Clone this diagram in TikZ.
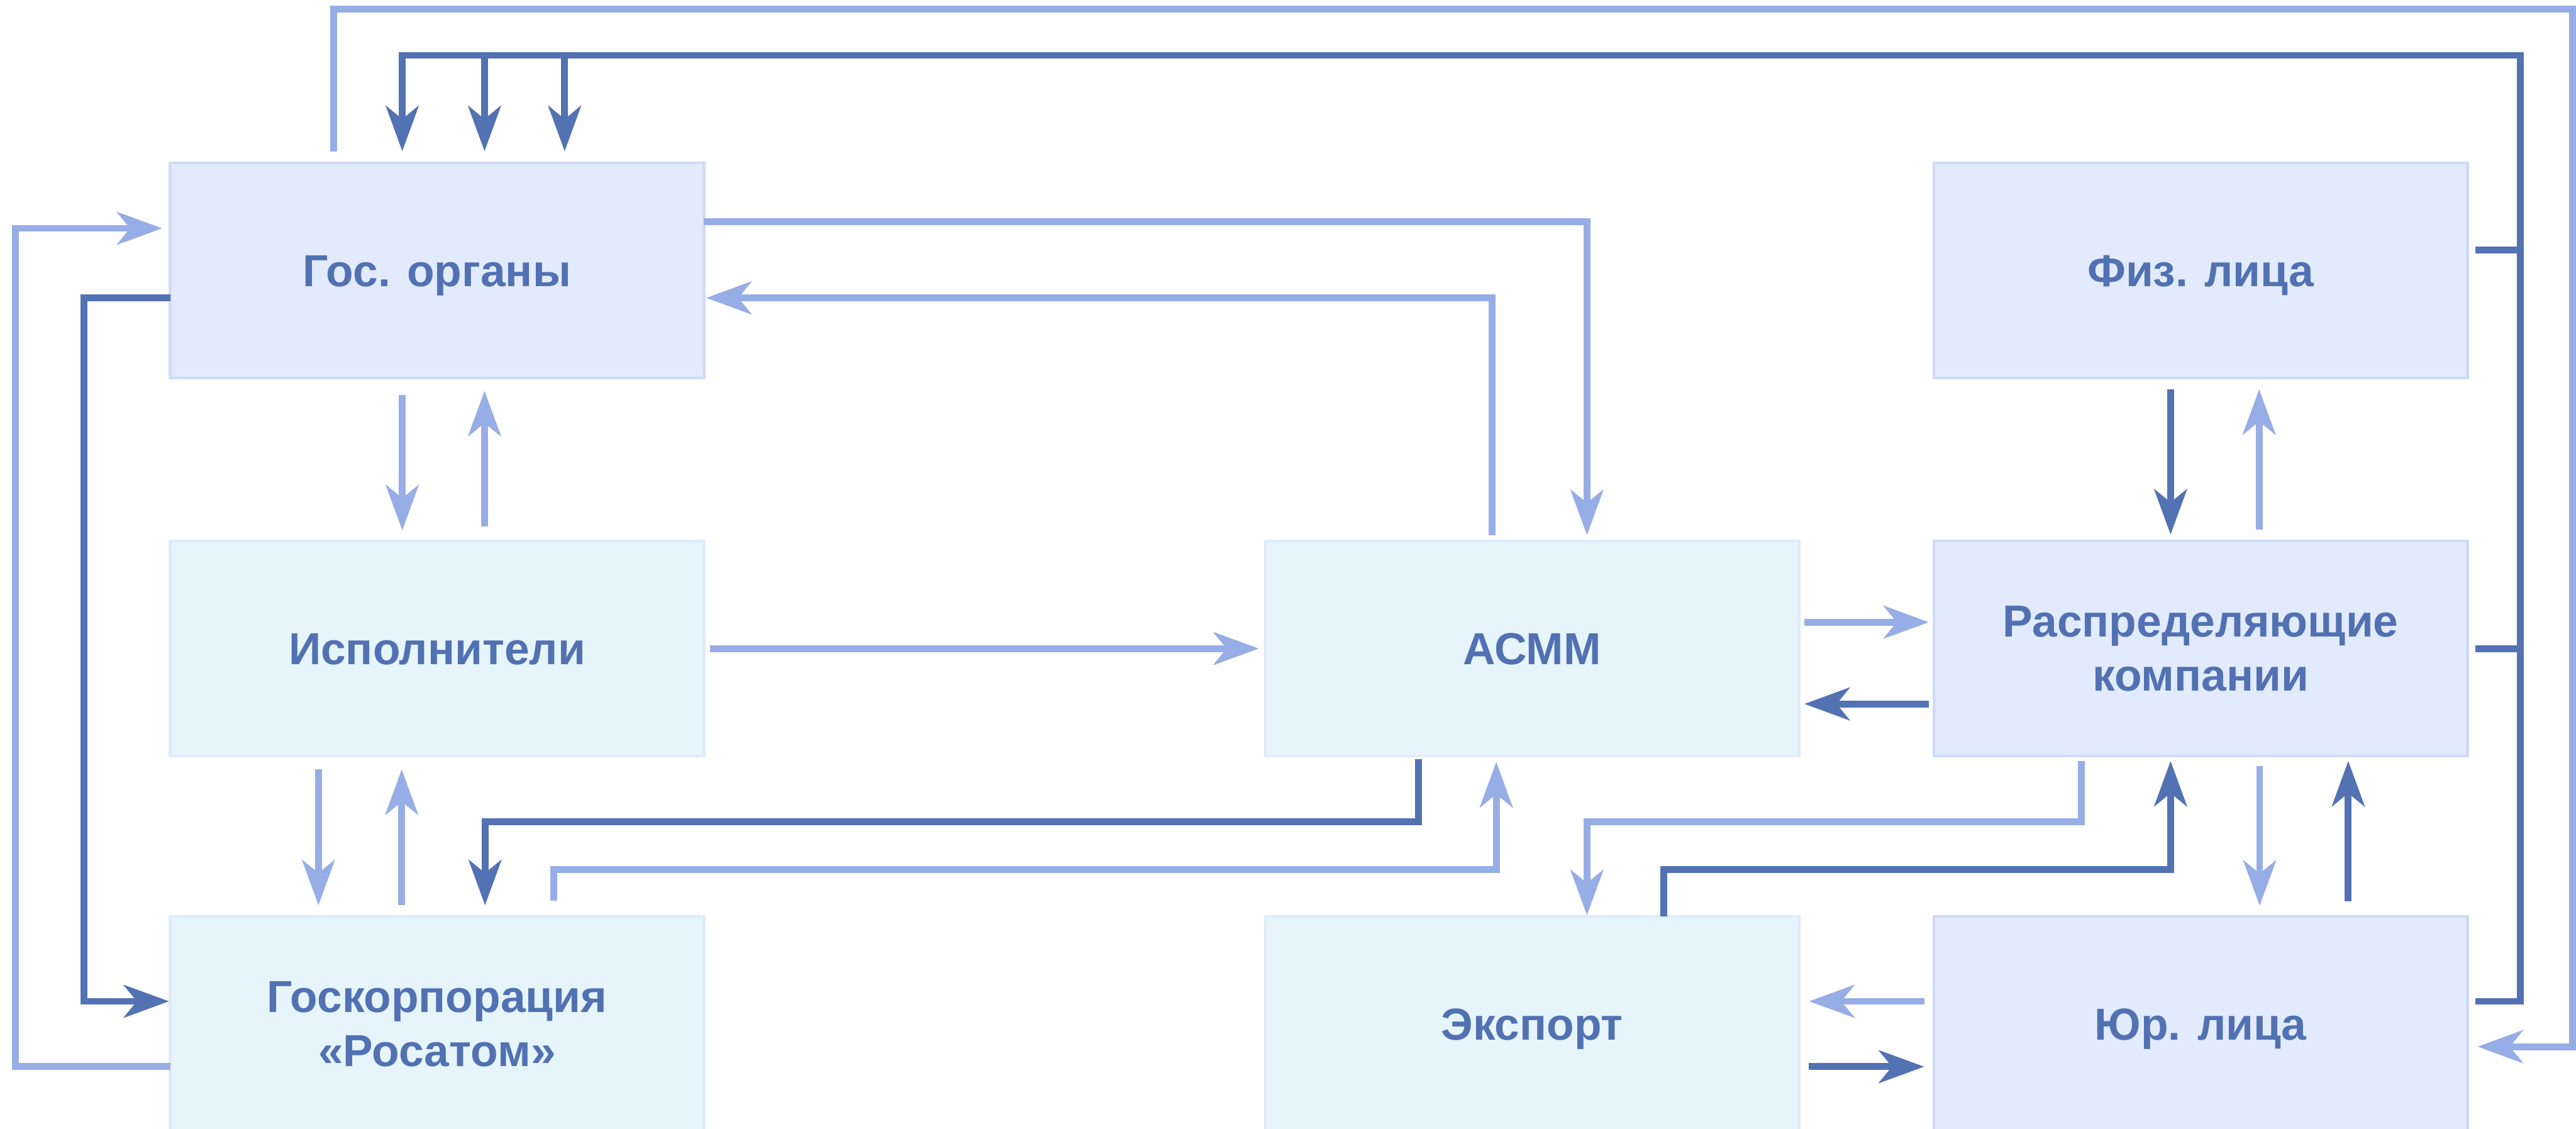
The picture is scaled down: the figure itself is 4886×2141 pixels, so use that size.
\documentclass[tikz,border=0pt]{standalone}
\usepackage{fontspec}
\setmainfont{Liberation Sans}
\usetikzlibrary{arrows.meta,calc}
\definecolor{darkln}{HTML}{5272B4}
\definecolor{lightln}{HTML}{97ADE6}
\definecolor{txtblue}{HTML}{5271B3}
\definecolor{fillA}{HTML}{E1EBFD}
\definecolor{drawA}{HTML}{CFDBF6}
\definecolor{fillB}{HTML}{E6F5FC}
\definecolor{drawB}{HTML}{DFEAFC}
\begin{document}
\begin{tikzpicture}[x=0.01cm, y=-0.01cm,
        box/.style={minimum width=10.12cm, minimum height=4.08cm, line width=0.05cm, outer sep=0pt, inner sep=0pt,
            align=center, text=txtblue, font=\fontsize{24.2}{29.3}\selectfont\bfseries},
        boxA/.style={box, fill=fillA, draw=drawA},
        boxB/.style={box, fill=fillB, draw=drawB},
        oneline/.style={text height=0.61cm, text depth=0pt},
        dk/.style={line width=0.13cm, draw=darkln},
        lt/.style={line width=0.13cm, draw=lightln},
        tip/.style={-{Stealth[length=0.86cm, width=0.62cm, inset=0.25cm]}}]
        \useasboundingbox (0,0) rectangle (4886,2141);
        \node[boxA, oneline] (gos) at (829,513) {Гос. органы};
        \node[boxB, oneline] (isp) at (829,1230) {Исполнители};
        \node[boxB] (ros) at (829,1942) {Госкорпорация\\«Росатом»};
        \node[boxB, oneline] (asmm) at (2906,1230) {АСММ};
        \node[boxB, oneline] (exp) at (2906,1942) {Экспорт};
        \node[boxA, oneline] (fiz) at (4174,513) {Физ. лица};
        \node[boxA] (rasp) at (4174,1230) {Распределяющие\\компании};
        \node[boxA, oneline] (jur) at (4174,1942) {Юр. лица};

        \draw[lt, tip] ($(gos.north)+(-196,-22)$) |- (4879,17) |- ($(jur.east)+(19,43)$);
        \draw[dk] ($(fiz.east)+(15,-39)$) -- +(92,0);
        \draw[dk] ($(rasp.east)+(15,0)$) -- +(92,0);
        \draw[dk, tip] ($(jur.east)+(15,-43)$) -| (4780,105) -| ($(gos.north)+(-66,-22)$);
        \foreach \dx in {90,242}
            \draw[dk, tip] ($(gos.north)+(\dx,-204)$) -- ($(gos.north)+(\dx,-22)$);
        \draw[lt, tip] ($(ros.west)+(0,81)$) -| (29,433) -- ($(gos.west)+(-15,-80)$);
        \draw[dk, tip] ($(gos.west)+(0,52)$) -| (159,1899) -- ($(ros.west)+(-2,-43)$);

        \draw[lt, tip] ($(gos.south)+(-66,32)$) -- ($(isp.north)+(-66,-20)$);
        \draw[lt, tip] ($(isp.north)+(90,-28)$) -- ($(gos.south)+(90,24)$);
        \draw[lt, tip] ($(isp.south)+(-225,25)$) -- ($(ros.north)+(-225,-21)$);
        \draw[lt, tip] ($(ros.north)+(-67,-21)$) -- ($(isp.south)+(-67,25)$);

        \draw[dk, tip] ($(asmm.south)+(-215,6)$) -- ++(0,118) -| ($(ros.north)+(91,-21)$);
        \draw[lt, tip] ($(ros.north)+(221,-30)$) -- ++(0,-59) -| ($(asmm.south)+(-68,11)$);
        \draw[lt, tip] ($(isp.east)+(12,0)$) -- ($(asmm.west)+(-12,0)$);
        \draw[lt, tip] ($(gos.east)+(0,-93)$) -| ($(asmm.north)+(104,-11)$);
        \draw[lt, tip] ($(asmm.north)+(-76,-11)$) |- ($(gos.east)+(4,52)$);

        \draw[lt, tip] ($(asmm.east)+(10,-50)$) -- ($(rasp.west)+(-9,-50)$);
        \draw[dk, tip] ($(rasp.west)+(-9,105)$) -- ($(asmm.east)+(10,105)$);
        \draw[dk, tip] ($(fiz.south)+(-57,21)$) -- ($(rasp.north)+(-57,-12)$);
        \draw[lt, tip] ($(rasp.north)+(111,-22)$) -- ($(fiz.south)+(111,21)$);

        \draw[lt, tip] ($(rasp.south)+(-226,9)$) -- ++(0,115) -| ($(exp.north)+(104,-2)$);
        \draw[dk, tip] ($(exp.north)+(250,0)$) -- ++(0,-89) -| ($(rasp.south)+(-57,9)$);
        \draw[lt, tip] ($(rasp.south)+(112,19)$) -- ($(jur.north)+(112,-20)$);
        \draw[dk, tip] ($(jur.north)+(280,-29)$) -- ($(rasp.south)+(280,9)$);

        \draw[lt, tip] ($(jur.west)+(-18,-43)$) -- ($(exp.east)+(19,-43)$);
        \draw[dk, tip] ($(exp.east)+(18,81)$) -- ($(jur.west)+(-18,81)$);
    \end{tikzpicture}
\end{document}
